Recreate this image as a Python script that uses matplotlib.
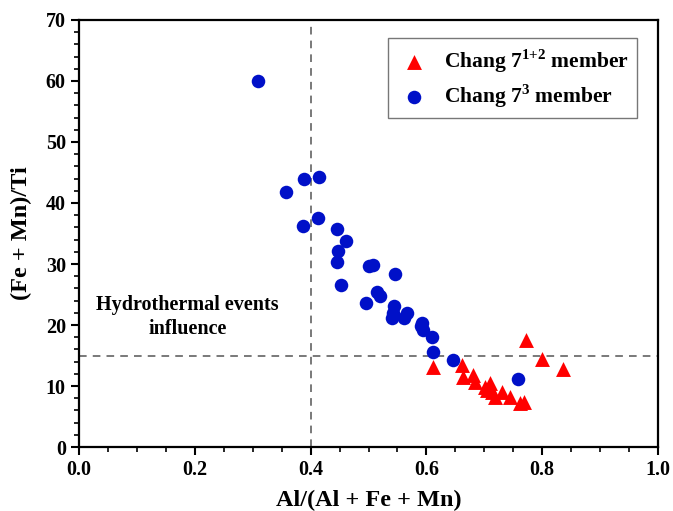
import numpy as np
import matplotlib.pyplot as plt
from matplotlib.ticker import MultipleLocator

plt.rcParams['font.family'] = ['Liberation Serif', 'DejaVu Serif']
plt.rcParams['font.weight'] = 'bold'
plt.rcParams['mathtext.fontset'] = 'custom'
plt.rcParams['mathtext.rm'] = 'Liberation Serif:bold'
plt.rcParams['mathtext.bf'] = 'Liberation Serif:bold'

# Chang 7^3 member (circles)
blue_x = [0.309, 0.357, 0.389, 0.415, 0.387, 0.413, 0.446, 0.461, 0.447, 0.446,
          0.453, 0.501, 0.507, 0.546, 0.515, 0.520, 0.496, 0.544, 0.542, 0.541,
          0.561, 0.566, 0.592, 0.591, 0.594, 0.610, 0.611, 0.646, 0.758]
blue_y = [60.0, 41.8, 43.9, 44.3, 36.3, 37.5, 35.7, 33.8, 32.1, 30.4,
          26.6, 29.6, 29.8, 28.4, 25.4, 24.8, 23.6, 23.1, 22.0, 21.2,
          21.1, 22.0, 20.4, 19.8, 19.2, 18.1, 15.5, 14.2, 11.1]

# Chang 7^(1+2) member (triangles)
red_x = [0.611, 0.661, 0.663, 0.680, 0.684, 0.701, 0.710, 0.705, 0.713, 0.731,
         0.718, 0.744, 0.762, 0.769, 0.772, 0.800, 0.836]
red_y = [13.1, 13.4, 11.5, 11.8, 10.7, 9.8, 10.5, 9.3, 9.0, 9.0,
         8.2, 8.2, 7.2, 7.4, 17.5, 14.4, 12.8]

fig = plt.figure(figsize=(6.73, 5.11), dpi=100)
ax = fig.add_axes([0.1174, 0.1252, 0.8603, 0.8357])

ax.axvline(0.4, color='#555555', linestyle=(0, (5, 4)), linewidth=1.1, zorder=1)
ax.axhline(15, color='#555555', linestyle=(0, (5, 4)), linewidth=1.1, zorder=1)

ax.scatter(red_x, red_y, marker='^', s=115, color='#ff0000', linewidths=0,
           label=r'Chang 7$^{\mathbf{1{+}2}}$ member', zorder=3)
ax.scatter(blue_x, blue_y, marker='o', s=95, color='#0010c8', linewidths=0,
           label=r'Chang 7$^{\mathbf{3}}$ member', zorder=3)

ax.text(0.187, 21.3, 'Hydrothermal events\ninfluence', ha='center', va='center',
        fontsize=14.5, fontweight='bold', linespacing=1.25)

ax.set_xlim(0, 1.0)
ax.set_ylim(0, 70)
ax.xaxis.set_major_locator(MultipleLocator(0.2))
ax.xaxis.set_minor_locator(MultipleLocator(0.05))
ax.yaxis.set_major_locator(MultipleLocator(10))
ax.yaxis.set_minor_locator(MultipleLocator(2))
ax.xaxis.set_major_formatter(plt.FuncFormatter(lambda v, p: f'{v:.1f}'))
ax.tick_params(which='major', direction='out', length=6, width=1.5, labelsize=14.5)
ax.tick_params(which='minor', direction='out', length=3.5, width=1.2)
for sp in ax.spines.values():
    sp.set_linewidth(1.6)

ax.set_xlabel('Al/(Al + Fe + Mn)', fontsize=17.5, fontweight='bold', labelpad=7)
ax.set_ylabel('(Fe + Mn)/Ti', fontsize=17.5, fontweight='bold', labelpad=10)

leg = ax.legend(loc='upper right', bbox_to_anchor=(0.983, 0.982), fontsize=15.5,
                frameon=True, fancybox=False, edgecolor='#555555',
                handlelength=1.6, handletextpad=0.6, borderpad=0.4,
                labelspacing=0.35, markerscale=1.0)
leg.get_frame().set_linewidth(1.0)
for t in leg.get_texts():
    t.set_fontweight('bold')

plt.savefig('out.png', dpi=100)
